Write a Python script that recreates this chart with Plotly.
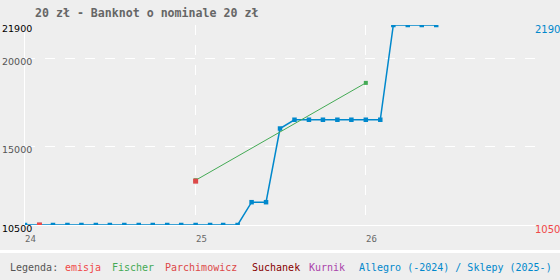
import plotly.graph_objects as go

# ---- data ----
allegro_dates = [
    "2024-01-01", "2024-02-01", "2024-03-01", "2024-04-01", "2024-05-01", "2024-06-01",
    "2024-07-01", "2024-08-01", "2024-09-01", "2024-10-01", "2024-11-01", "2024-12-01",
    "2025-01-01", "2025-02-01", "2025-03-01", "2025-04-01", "2025-05-01", "2025-06-01",
    "2025-07-01", "2025-08-01", "2025-09-01", "2025-10-01", "2025-11-01", "2025-12-01",
    "2026-01-01", "2026-02-01", "2026-03-01", "2026-04-01", "2026-05-01", "2026-06-01",
]
allegro_values = [
    10500, 10500, 10500, 10500, 10500, 10500,
    10500, 10500, 10500, 10500, 10500, 10500,
    10500, 10500, 10500, 10500, 11800, 11800,
    16000, 16500, 16500, 16500, 16500, 16500,
    16500, 16500, 21900, 21900, 21900, 21900,
]
fischer_dates = ["2025-01-01", "2026-01-01"]
fischer_values = [13050, 18600]
parchimowicz_dates = ["2025-01-01"]
parchimowicz_values = [13000]
emisja_dates = ["2024-02-01"]
emisja_values = [10500]

y_min, y_max = 10500, 21900
y_grid = [15000, 20000]
x_grid = ["2025-01-01", "2026-01-01"]
x_tick_dates = ["2024-01-01", "2025-01-01", "2026-01-01"]
x_tick_labels = ["24", "25", "26"]
title_text = "20 zł - Banknot o nominale 20 zł"
legend_items = [
    ("Legenda:", "#555555"),
    ("emisja", "#f04848"),
    ("Fischer", "#44aa55"),
    ("Parchimowicz", "#dd4848"),
    ("Suchanek", "#880000"),
    ("Kurnik", "#aa44aa"),
    ("Allegro (-2024) / Sklepy (2025-)", "#0088cc"),
]
legend_px = [10, 65, 112, 165, 252, 309, 359]

BLUE = "#0088cc"
GREEN = "#44aa55"
RED = "#f04848"
RED2 = "#dd4848"

L, R, T, B = 25, 24, 25, 55
W, H = 560, 280
PW = W - L - R
PH = H - T - B


def px_to_paper_x(px):
    return (px - L) / PW


def py_to_paper_y(py):
    return (H - B - py) / PH


fig = go.Figure()
fig.add_trace(go.Scatter(x=allegro_dates, y=allegro_values, mode="lines+markers",
                         line=dict(color=BLUE, width=1.5),
                         marker=dict(symbol="square", size=4.5, color=BLUE)))
fig.add_trace(go.Scatter(x=fischer_dates, y=fischer_values, mode="lines+markers",
                         line=dict(color=GREEN, width=1),
                         marker=dict(symbol="square", size=4, color=GREEN)))
fig.add_trace(go.Scatter(x=parchimowicz_dates, y=parchimowicz_values, mode="markers",
                         marker=dict(symbol="square", size=5, color=RED2)))
fig.add_trace(go.Scatter(x=emisja_dates, y=emisja_values, mode="markers",
                         marker=dict(symbol="square", size=5, color=RED)))

ann = []
# title
ann.append(dict(text="<b>" + title_text + "</b>", xref="paper", yref="paper",
                x=px_to_paper_x(33), y=py_to_paper_y(13), xanchor="left", yanchor="middle",
                showarrow=False, font=dict(family="DejaVu Sans Mono", size=11.6, color="#666666")))
# left y labels
for v, c in [(y_max, "#000000"), (y_grid[1], "#555555"), (y_grid[0], "#555555"), (y_min, "#000000")]:
    ann.append(dict(text=f"{v}", xref="paper", yref="y", x=0, y=v, xshift=9,
                    xanchor="right", yanchor="top", showarrow=False, yshift=4,
                    font=dict(family="DejaVu Sans", size=9.5, color=c)))
# right labels
ann.append(dict(text=f"{allegro_values[-1]}", xref="paper", yref="y", x=1, y=allegro_values[-1],
                xanchor="left", yanchor="top", showarrow=False, xshift=-3, yshift=3,
                font=dict(family="DejaVu Sans", size=10, color=BLUE)))
ann.append(dict(text=f"{emisja_values[0]}", xref="paper", yref="y", x=1, y=emisja_values[0],
                xanchor="left", yanchor="top", showarrow=False, xshift=-3, yshift=3,
                font=dict(family="DejaVu Sans", size=10, color=RED)))
# x tick labels
for d, t in zip(x_tick_dates, x_tick_labels):
    ann.append(dict(text=t, xref="x", yref="paper", x=d, y=py_to_paper_y(239),
                    xanchor="left", yanchor="middle", showarrow=False, xshift=-2,
                    font=dict(family="DejaVu Sans Mono", size=9, color="#666666")))
# legend
for (t, c), p in zip(legend_items, legend_px):
    ann.append(dict(text=t, xref="paper", yref="paper", x=px_to_paper_x(p), y=py_to_paper_y(267),
                    xanchor="left", yanchor="middle", showarrow=False, xshift=-2,
                    font=dict(family="DejaVu Sans Mono", size=10, color=c)))

shapes = [dict(type="rect", xref="paper", yref="paper",
               x0=px_to_paper_x(0), x1=px_to_paper_x(W),
               y0=py_to_paper_y(253), y1=py_to_paper_y(250),
               fillcolor="#ffffff", line=dict(width=0), layer="below")]

fig.update_layout(
    width=W, height=H, margin=dict(l=L, r=R, t=T, b=B),
    paper_bgcolor="#eeeeee", plot_bgcolor="#eeeeee",
    showlegend=False, annotations=ann, shapes=shapes,
    xaxis=dict(type="date", range=["2024-01-01", "2027-01-01"], tickvals=x_grid,
               showticklabels=False, showgrid=True, gridcolor="#ffffff", gridwidth=1,
               griddash="10px,10px", zeroline=False, showline=True, linecolor="#ffffff",
               linewidth=1, ticks=""),
    yaxis=dict(range=[y_min, y_max], tickvals=y_grid, showticklabels=False,
               showgrid=True, gridcolor="#ffffff", gridwidth=1, griddash="10px,10px",
               zeroline=False, showline=True, linecolor="#ffffff", linewidth=1, ticks=""),
)

fig.write_html("out.html")
